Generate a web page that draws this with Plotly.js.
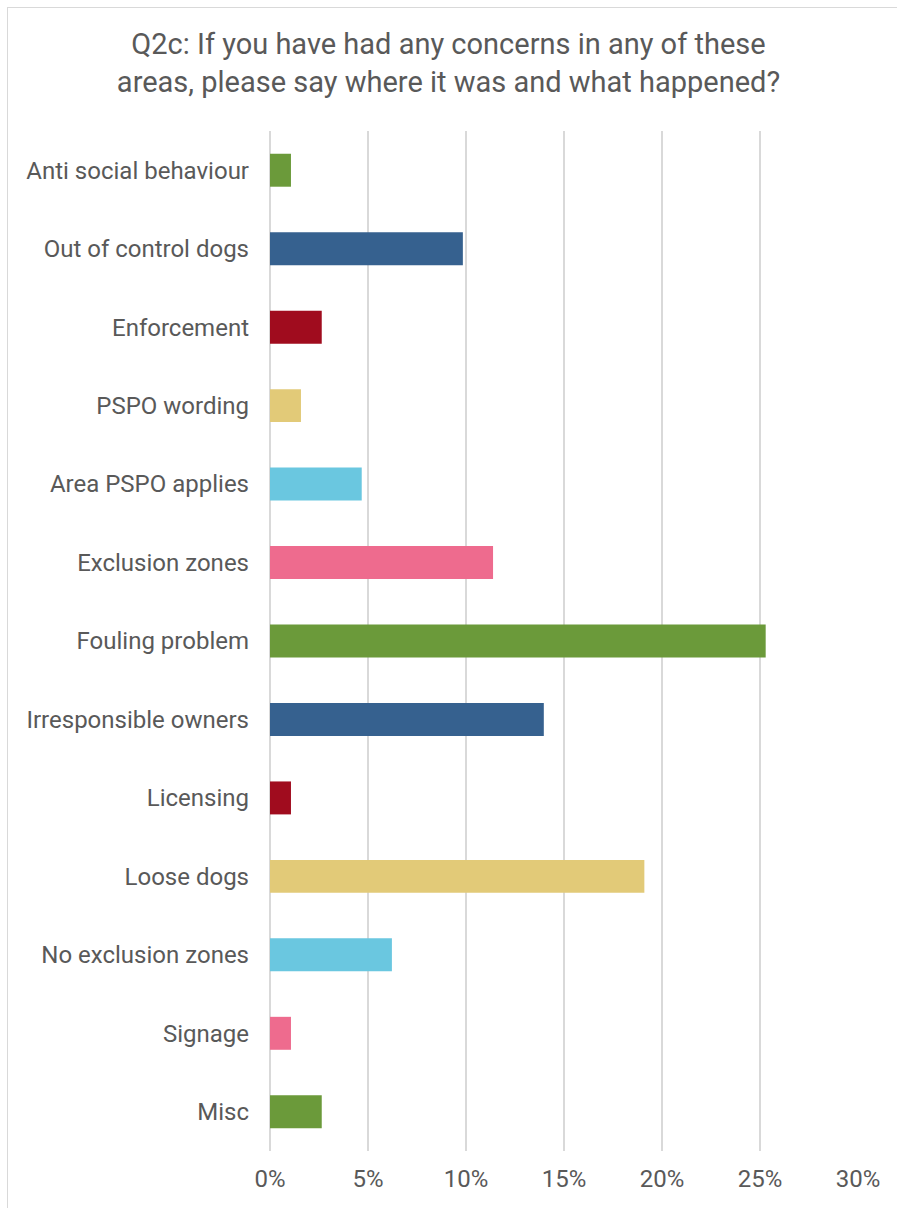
<!DOCTYPE html>
<html>
<head>
<meta charset="utf-8">
<script src="https://cdn.plot.ly/plotly-3.0.1.min.js"></script>
<style>
html,body{margin:0;padding:0;background:#fff;overflow:hidden;}
#wrap{position:relative;width:897px;height:1208px;}
#chart{position:absolute;left:0;top:0;width:897px;height:1208px;}
#frame{position:absolute;left:7px;top:7px;width:1000px;height:1300px;border:1px solid #d9d9d9;pointer-events:none;}
</style>
</head>
<body>
<div id="wrap"><div id="chart"></div><div id="frame"></div></div>
<script>
const categories = [
  "Anti social behaviour",
  "Out of control dogs",
  "Enforcement",
  "PSPO wording",
  "Area PSPO applies",
  "Exclusion zones",
  "Fouling problem",
  "Irresponsible owners",
  "Licensing",
  "Loose dogs",
  "No exclusion zones",
  "Signage",
  "Misc"
];
const values = [0.0107, 0.0984, 0.0264, 0.0158, 0.0468, 0.1138, 0.2529, 0.1397, 0.0107, 0.1910, 0.0622, 0.0107, 0.0264];
const barColors = ["#6B9A3A","#36618F","#A00C1E","#E2CA78","#6AC7E0","#EE6B8E","#6B9A3A","#36618F","#A00C1E","#E2CA78","#6AC7E0","#EE6B8E","#6B9A3A"];
const titleText = "Q2c: If you have had any concerns in any of these<br>areas, please say where it was and what happened?";

const trace = {
  type: "bar",
  orientation: "h",
  x: values,
  y: categories,
  marker: {color: barColors, line: {width: 0}},
  hoverinfo: "x+y"
};

const layout = {
  width: 897,
  height: 1208,
  margin: {l: 270, r: 39, t: 131, b: 57},
  paper_bgcolor: "rgba(0,0,0,0)",
  plot_bgcolor: "#fff",
  font: {family: "Roboto, 'Open Sans', sans-serif", color: "#595959"},
  title: {
    text: titleText,
    font: {size: 29, color: "#595959", family: "Roboto, sans-serif"},
    x: 0.5, xanchor: "center", xref: "container",
    y: 0.955, yanchor: "middle", yref: "container"
  },
  bargap: 0.58,
  showlegend: false,
  xaxis: {
    range: [0, 0.30],
    dtick: 0.05,
    tick0: 0,
    tickformat: ".0%",
    showgrid: true,
    gridcolor: "#d9d9d9",
    gridwidth: 2,
    zeroline: true,
    zerolinecolor: "#d9d9d9",
    zerolinewidth: 2,
    showline: false,
    ticks: "",
    ticklabelstandoff: 11,
    tickfont: {size: 24, color: "#595959"},
    fixedrange: true
  },
  yaxis: {
    autorange: "reversed",
    showgrid: false,
    zeroline: false,
    showline: false,
    ticks: "",
    ticklabelstandoff: 20,
    tickfont: {size: 24, color: "#595959"},
    fixedrange: true
  }
};

Plotly.newPlot("chart", [trace], layout, {displayModeBar: false, staticPlot: true});
</script>
</body>
</html>
